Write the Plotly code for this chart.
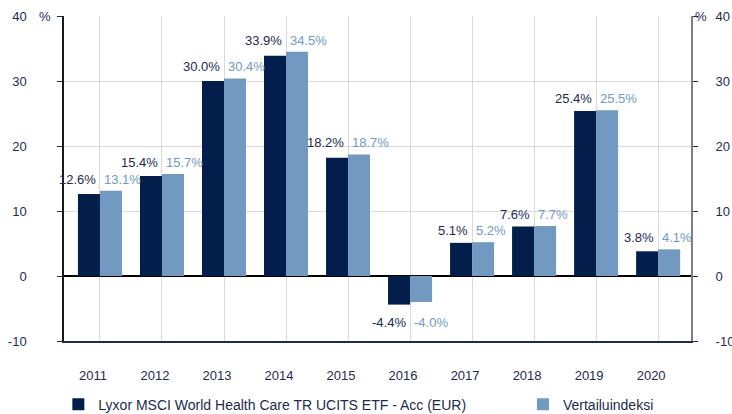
import plotly.graph_objects as go

years = ["2011", "2012", "2013", "2014", "2015", "2016", "2017", "2018", "2019", "2020"]
fund = [12.6, 15.4, 30.0, 33.9, 18.2, -4.4, 5.1, 7.6, 25.4, 3.8]
bench = [13.1, 15.7, 30.4, 34.5, 18.7, -4.0, 5.2, 7.7, 25.5, 4.1]
fund_name = "Lyxor MSCI World Health Care TR UCITS ETF - Acc (EUR)"
bench_name = "Vertailuindeksi"
y_ticks = [-10, 0, 10, 20, 30, 40]
y_ticktext = [str(v) for v in y_ticks]

DARK = "#031e4a"
LIGHT = "#7299bf"
TXT = "#1c2b4f"
FONT = "Liberation Sans, Arial, sans-serif"

pos = list(range(len(years)))

fig = go.Figure()
fig.add_trace(go.Bar(x=pos, y=fund, name=fund_name, marker_color=DARK, marker_line_width=0,
                     legend="legend"))
fig.add_trace(go.Bar(x=pos, y=bench, name=bench_name, marker_color=LIGHT, marker_line_width=0,
                     legend="legend2"))
fig.add_trace(go.Scatter(x=pos, y=fund, yaxis="y2", mode="markers", marker_opacity=0,
                         showlegend=False, hoverinfo="skip"))

annotations = []
for i in pos:
    a, b = fund[i], bench[i]
    if a >= 0:
        ypos, yanchor, yshift = max(a, b), "bottom", 2
    else:
        ypos, yanchor, yshift = min(a, b), "top", -8
    annotations.append(dict(x=i, y=ypos, xref="x", yref="y", text=f"{a:.1f}%", showarrow=False,
                            xanchor="right", xshift=-2, yanchor=yanchor, yshift=yshift,
                            font=dict(color=TXT, size=13, family=FONT)))
    annotations.append(dict(x=i, y=ypos, xref="x", yref="y", text=f"{b:.1f}%", showarrow=False,
                            xanchor="left", xshift=2, yanchor=yanchor, yshift=yshift,
                            font=dict(color=LIGHT, size=13, family=FONT)))

annotations.append(dict(xref="paper", yref="paper", x=0, y=1, text="%", showarrow=False,
                        xanchor="right", yanchor="middle", xshift=-11,
                        font=dict(color=TXT, size=13, family=FONT)))
annotations.append(dict(xref="paper", yref="paper", x=1, y=1, text="%", showarrow=False,
                        xanchor="left", yanchor="middle", xshift=2,
                        font=dict(color=TXT, size=13, family=FONT)))

legend_common = dict(orientation="h", yanchor="middle", y=-0.196,
                     font=dict(size=14, color=TXT, family=FONT), bgcolor="rgba(0,0,0,0)")

fig.update_layout(
    width=732, height=414,
    margin=dict(l=64, r=41, t=16, b=73, autoexpand=False),
    paper_bgcolor="white", plot_bgcolor="white",
    barmode="group", bargap=0.29, bargroupgap=0,
    font=dict(family=FONT, color=TXT, size=13),
    showlegend=True,
    legend=dict(x=-0.009, xanchor="left", **legend_common),
    legend2=dict(x=0.732, xanchor="left", **legend_common),
    annotations=annotations,
    xaxis=dict(range=[-0.58, 9.53], tickvals=pos, ticktext=years, showgrid=True,
               gridcolor="#d9d9d9", gridwidth=1, zeroline=False, showline=True,
               linecolor="#1c2b4f", linewidth=1.5, automargin=False,
               ticks="outside", ticklen=0, ticklabelstandoff=22, ticklabelshift=-7,
               tickfont=dict(size=13, color=TXT, family=FONT)),
    yaxis=dict(range=[-10, 40], tickvals=y_ticks, ticktext=y_ticktext, showgrid=True,
               gridcolor="#d9d9d9", gridwidth=1, zeroline=True, zerolinecolor="#000000",
               zerolinewidth=1.5, showline=True, linecolor="#1a1a1a", linewidth=1.5,
               automargin=False, ticks="outside", ticklen=5, tickcolor=TXT,
               ticklabelstandoff=28, tickfont=dict(size=13, color=TXT, family=FONT)),
    yaxis2=dict(range=[-10, 40], tickvals=y_ticks, ticktext=y_ticktext, overlaying="y",
                side="right", showgrid=False, zeroline=False, showline=True,
                linecolor="#7f7f7f", linewidth=2, ticks="outside", ticklen=5, tickcolor=TXT,
                automargin=False, ticklabelstandoff=15,
                tickfont=dict(size=13, color=TXT, family=FONT)),
)

fig.write_html("out.html", config={"displayModeBar": False},
               post_script="document.body.style.margin='0';document.body.style.overflow='hidden';")
